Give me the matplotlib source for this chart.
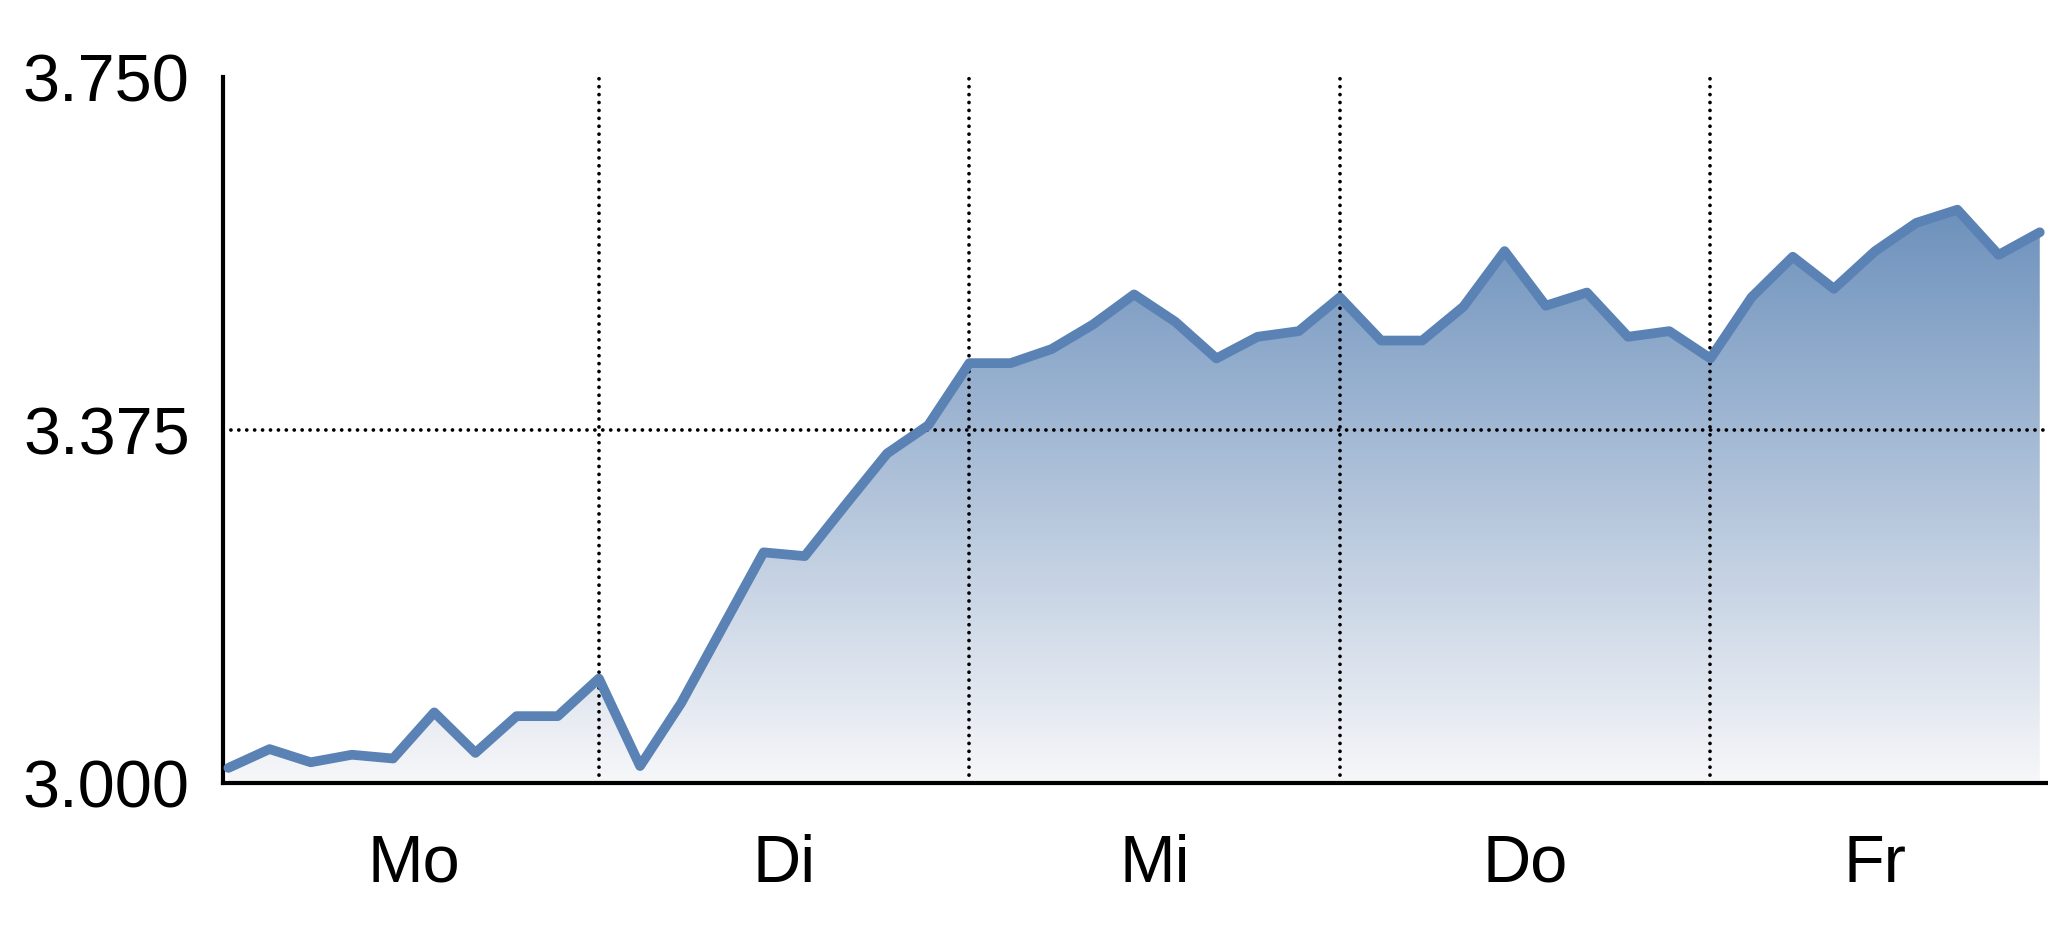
import matplotlib
matplotlib.use("Agg")
import matplotlib.pyplot as plt
import numpy as np
from matplotlib.colors import LinearSegmentedColormap

plt.rcParams['font.family'] = ['Liberation Sans', 'DejaVu Sans']

# 9 Werte pro Tag, Freitag endet vorzeitig
values = [3.016, 3.036, 3.022, 3.030, 3.026, 3.075, 3.032, 3.071, 3.071,
          3.111, 3.018, 3.085, 3.165, 3.245, 3.241, 3.296, 3.350, 3.380,
          3.446, 3.446, 3.461, 3.487, 3.519, 3.490, 3.451, 3.474, 3.480,
          3.516, 3.470, 3.470, 3.506, 3.565, 3.507, 3.521, 3.474, 3.480,
          3.451, 3.516, 3.559, 3.525, 3.565, 3.595, 3.609, 3.561, 3.585]
day_labels = ["Mo", "Di", "Mi", "Do", "Fr"]
day_label_pos = [4.5, 13.5, 22.5, 31.5, 40.0]
day_breaks = [9, 18, 27, 36]
y_ticks = [3.0, 3.375, 3.75]
y_ticklabels = ["3.000", "3.375", "3.750"]

x = np.arange(len(values))
y = np.array(values)

fig = plt.figure(figsize=(20.48, 9.37), dpi=100)
ax = fig.add_axes([0.1089, 0.1633, 0.8911, 0.7535])
ax.set_xlim(-0.13, 44.2)
ax.set_ylim(3.0, 3.75)

# Verlaufsfüllung unter der Kurve
cmap = LinearSegmentedColormap.from_list("fade", ["#f7f7f9", "#6d91bc"])
grad = np.linspace(0, 1, 256).reshape(-1, 1)
im = ax.imshow(grad, cmap=cmap, origin="lower", aspect="auto",
               extent=[x[0], x[-1], 3.0, y.max()], zorder=1)
poly = ax.fill_between(x, y, 3.0, color="none", lw=0)
clip = poly.get_paths()[0]
im.set_clip_path(clip, transform=ax.transData)

ax.plot(x, y, color="#5a82b4", lw=7.0, solid_joinstyle="round",
        solid_capstyle="round", zorder=3)

dots = dict(color="black", lw=2.7, linestyle=(0, (0.01, 2.1)),
            dash_capstyle="round", zorder=2)
for b in day_breaks:
    ax.axvline(b, **dots)
ax.axhline(3.375, **dots)

ax.spines["top"].set_visible(False)
ax.spines["right"].set_visible(False)
ax.spines["left"].set_linewidth(3.0)
ax.spines["bottom"].set_linewidth(3.0)
ax.spines["bottom"].set_zorder(4)

ax.set_yticks(y_ticks)
ax.set_yticklabels(y_ticklabels)
ax.set_xticks(day_label_pos)
ax.set_xticklabels(day_labels)
ax.tick_params(axis="y", length=0, pad=24, labelsize=48)
ax.tick_params(axis="x", length=0, pad=36, labelsize=48)

fig.savefig("out.png", dpi=100)
